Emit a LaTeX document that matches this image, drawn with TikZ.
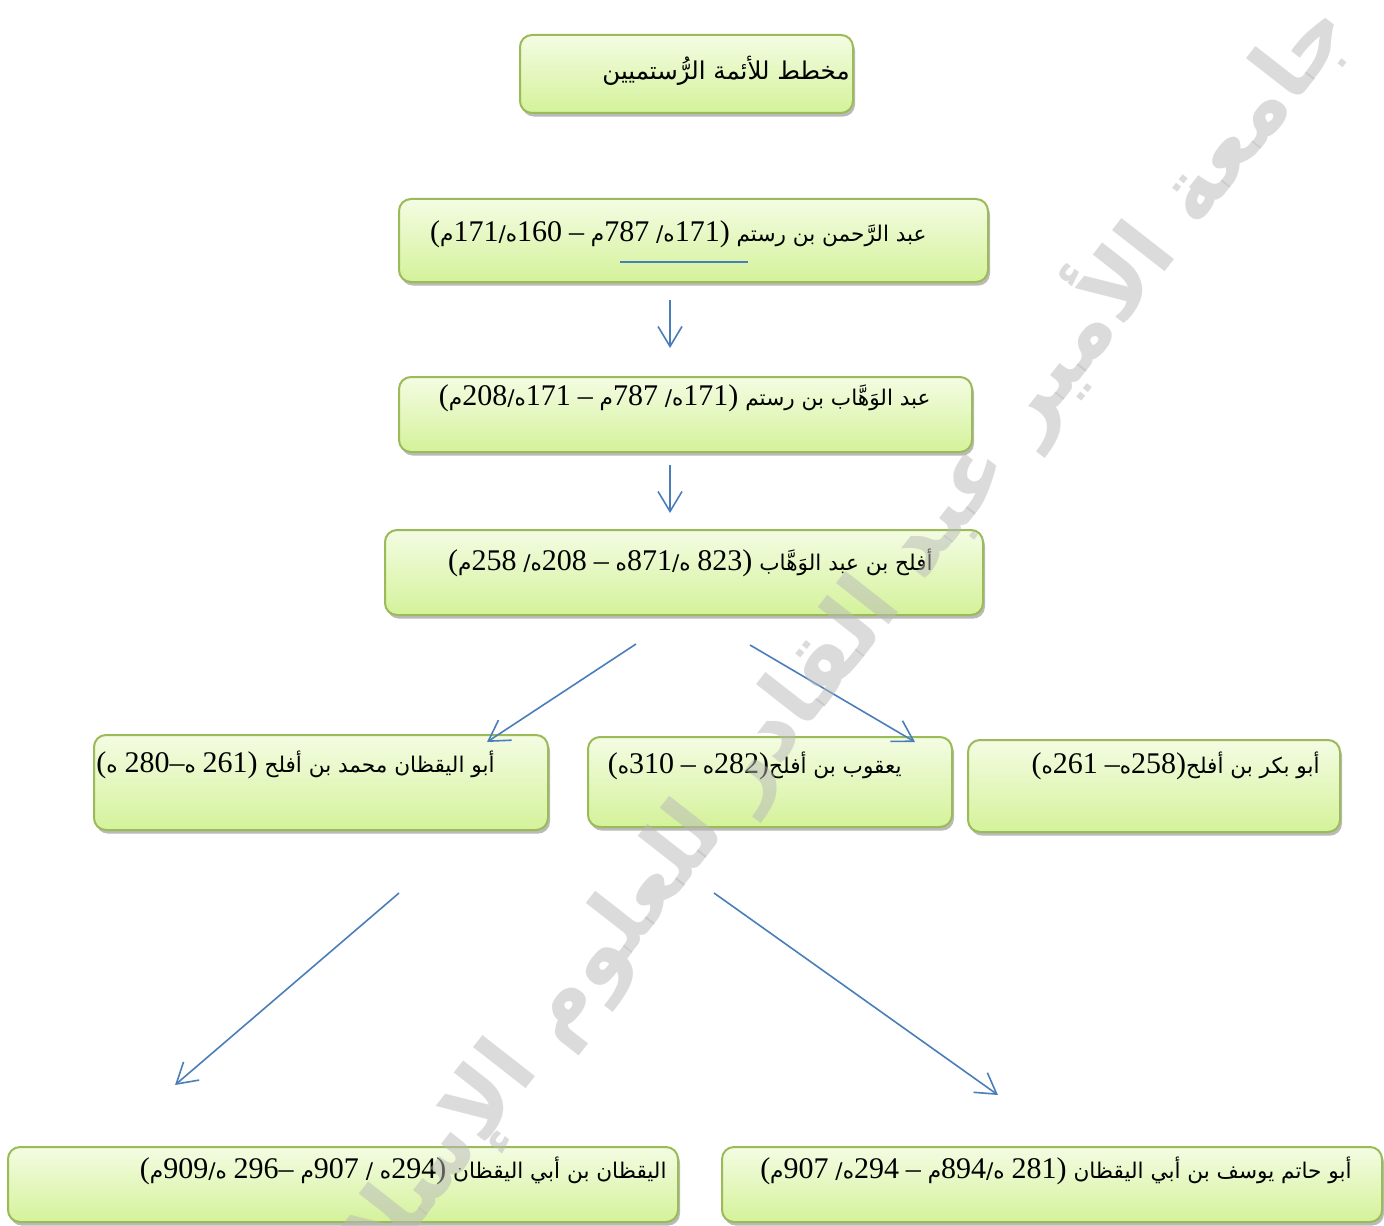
\documentclass[tikz,border=0pt]{standalone}
\usepackage{fontspec}
\usepackage{xcolor}
\usepackage{tikz}
\usetikzlibrary{arrows.meta, shadows, positioning}
\setmainfont{Liberation Serif}
\newfontfamily\arabicfont[Script=Arabic,Scale=0.72]{DejaVu Sans}
\newfontfamily\numfont{Liberation Serif}
\TeXXeTstate=1
\newcommand{\yr}[1]{{\numfont #1}}
% parentheses and dash as seen in right-to-left text
\newcommand{\po}{\kern0pt\yr{)}\kern0pt}
\newcommand{\pc}{\kern0pt\yr{(}\kern0pt}
\newcommand{\dd}{\kern0pt\yr{–}\kern0pt}

\definecolor{boxline}{HTML}{9BBB59}
\definecolor{boxtop}{HTML}{F4FCE3}
\definecolor{boxbot}{HTML}{D4F29A}
\definecolor{arrblue}{HTML}{4A7EBB}
\definecolor{wmark}{HTML}{B8B8B8}

\tikzset{
  box/.style={draw=boxline, line width=1pt, rounded corners=6pt,
    top color=boxtop, bottom color=boxbot, inner sep=0pt,
    drop shadow={shadow xshift=1pt, shadow yshift=-1.8pt, fill=black!45, opacity=.6}},
  txt/.style={anchor=base east, inner sep=0pt, font=\arabicfont\fontsize{15}{18}\selectfont},
  ttl/.style={txt, font=\arabicfont\fontsize{17}{21}\selectfont},
  arr/.style={draw=arrblue, line width=0.8pt, -{Straight Barb[length=10pt,width=12pt]}},
}

\begin{document}
\begin{tikzpicture}[x=0.5pt,y=-0.5pt]
  \useasboundingbox (0,0) rectangle (1384,1225);
  \fill[white] (0,0) rectangle (1384,1225);

  % boxes
  \node[box, minimum width=166.5pt, minimum height=39pt] (b0) at (686.5,74) {};
  \node[box, minimum width=294.5pt, minimum height=41.5pt] (b1) at (693.5,240.5) {};
  \node[box, minimum width=286.5pt, minimum height=37.5pt] (b2) at (685.5,414.5) {};
  \node[box, minimum width=299pt, minimum height=42.5pt] (b3) at (684,572.5) {};
  \node[box, minimum width=227pt, minimum height=47.5pt] (b4) at (321,782.5) {};
  \node[box, minimum width=182pt, minimum height=45pt] (b5) at (770,782) {};
  \node[box, minimum width=186pt, minimum height=46pt] (b6) at (1154,786) {};
  \node[box, minimum width=335pt, minimum height=37.5pt] (b7) at (343,1184.5) {};
  \node[box, minimum width=330pt, minimum height=37.5pt] (b8) at (1052,1184.5) {};

  % texts
  \node[ttl] (t0) at (850,80) {\beginR مخطط للأئمة الرُّستميين\endR};
  \node[txt] (t1) at (927,242) {\beginR عبد الرَّحمن بن رستم \po\yr{171}ه/ \yr{787}م \dd{} \yr{160}ه/\yr{171}م\pc\endR};
  \node[txt] (t2) at (931,405) {\beginR عبد الوَهَّاب بن رستم \po\yr{171}ه/ \yr{787}م \dd{} \yr{171}ه/\yr{208}م\pc\endR};
  \node[txt] (t3) at (933,570) {\beginR أفلح بن عبد الوَهَّاب \po\yr{823} ه/\yr{871}ه \dd{} \yr{208}ه/ \yr{258}م\pc\endR};
  \node[txt] (t4) at (495,772) {\beginR أبو اليقظان محمد بن أفلح \po\yr{261} ه\dd\yr{280} ه\pc\endR};
  \node[txt] (t5) at (902,773) {\beginR يعقوب بن أفلح\po\yr{282}ه \dd{} \yr{310}ه\pc\endR};
  \node[txt] (t6) at (1320,773) {\beginR أبو بكر بن أفلح\po\yr{258}ه\dd{} \yr{261}ه\pc\endR};
  \node[txt] (t7) at (667,1178) {\beginR اليقظان بن أبي اليقظان \po\yr{294}ه / \yr{907}م \dd\yr{296} ه/\yr{909}م\pc\endR};
  \node[txt] (t8) at (1352,1178) {\beginR أبو حاتم يوسف بن أبي اليقظان \po\yr{281} ه/\yr{894}م \dd{} \yr{294}ه/ \yr{907}م\pc\endR};

  % underline in first box
  \coordinate (u1) at (620,262);
  \coordinate (u2) at (748,262);
  \draw[arrblue, line width=1pt] (u1) -- (u2);

  % arrows
  \coordinate (a1) at (670,300);  \coordinate (a1e) at (670,348);
  \coordinate (a2) at (670,465);  \coordinate (a2e) at (670,513);
  \coordinate (a3) at (636,644);  \coordinate (a3e) at (487,742);
  \coordinate (a4) at (750,645);  \coordinate (a4e) at (915,742);
  \coordinate (a5) at (399,893);  \coordinate (a5e) at (175,1085);
  \coordinate (a6) at (714,893);  \coordinate (a6e) at (998,1095);
  \foreach \s/\e in {a1/a1e,a2/a2e,a3/a3e,a4/a4e,a5/a5e,a6/a6e}{
    \draw[arr] (\s) -- (\e);
  }

  % watermark
  \node[rotate=52, anchor=east, inner sep=0pt, text=wmark, opacity=.5,
    font=\arabicfont\bfseries\fontsize{61}{68}\selectfont] (wm) at (1330,10)
    {\beginR جامعة الأمير عبد القادر للعلوم الإسلامية\endR};
\end{tikzpicture}
\end{document}
